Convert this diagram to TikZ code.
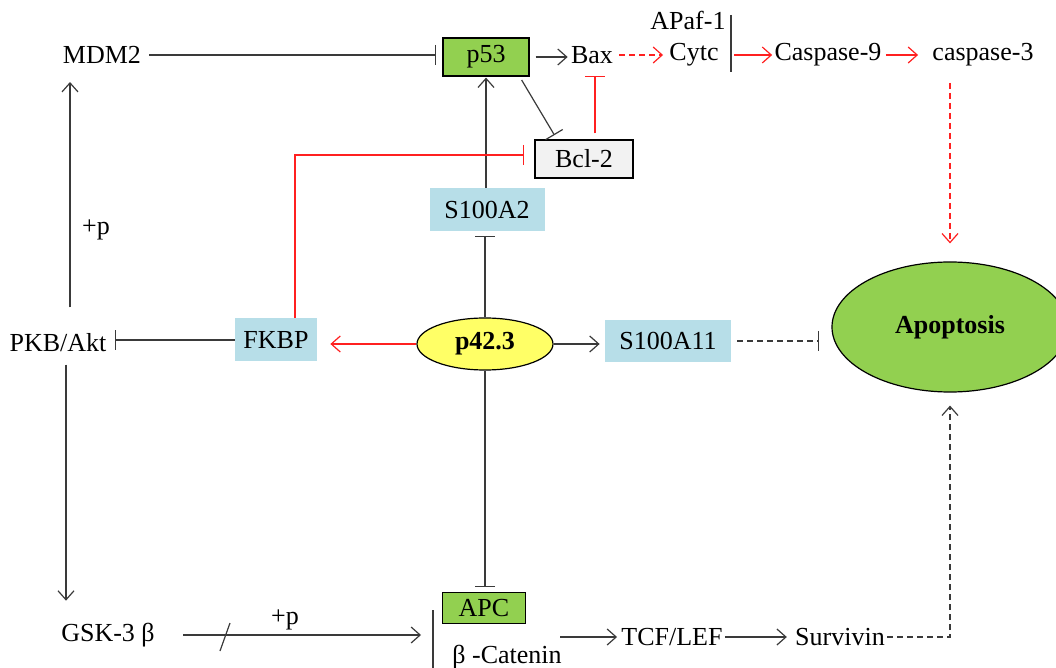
\documentclass[tikz,border=0pt]{standalone}
\usepackage{fontspec}
\setmainfont{Liberation Serif}
\usepackage{xcolor}
\usepackage {tikz}
\usetikzlibrary{positioning, arrows.meta, shapes.geometric}

\definecolor{leafgreen}{HTML}{92D050}
\definecolor{paleblue}{HTML}{B7DEE8}
\definecolor{palegray}{HTML}{F2F2F2}
\definecolor{lemon}{HTML}{FFFF66}
\definecolor{inkgray}{HTML}{3A3A3A}
\definecolor{signalred}{HTML}{FF2020}

\tikzset{
        every node/.style={font=\fontsize{13}{15}\selectfont, inner sep=0pt},
        greenbox/.style={draw=black, line width=.6pt, fill=leafgreen, minimum width=43pt, minimum height=19pt},
        graybox/.style={draw=black, line width=.6pt, fill=palegray, minimum width=49pt, minimum height=19pt},
        bluebox/.style={fill=paleblue, minimum width=41pt, minimum height=21.5pt},
        hub/.style={ellipse, draw=black, line width=.6pt, fill=lemon, minimum width=68pt, minimum height=26pt, font=\fontsize{13}{15}\selectfont\bfseries},
        fate/.style={ellipse, draw=black, line width=.6pt, fill=leafgreen, minimum width=118pt, minimum height=65pt, font=\fontsize{13}{15}\selectfont\bfseries},
        link/.style={draw=inkgray, line width=.6pt},
        act/.style={link, -{Straight Barb[length=4.5pt, width=8pt]}, shorten <=3pt, shorten >=3pt},
        inh/.style={link, -{Bar[width=10pt]}, shorten <=3pt, shorten >=3pt},
        actred/.style={act, draw=signalred},
        inhred/.style={inh, draw=signalred},
        dashline/.style={dash pattern=on 3pt off 2pt}
}

\begin{document}
\begin{tikzpicture}[x=0.5pt, y=-0.5pt]
        \clip (0,0) rectangle (1056,668);

        % upper row: p53 and the caspase cascade
        \node (mdm2) at (102,55) {MDM2};
        \node[greenbox] (p53) at (486,57) {p53};
        \node (bax) at (592,55) {Bax};
        \node (apaf) at (688,20) {APaf-1};
        \node (cytc) at (694,55) {Cytc};
        \coordinate (mitotop) at (731,15);
        \coordinate (mitobot) at (731,72);
        \node (casp9) at (828,55) {Caspase-9};
        \node (casp3) at (983,55) {caspase-3};
        \node[graybox] (bcl2) at (584,159) {Bcl-2};
        \node[bluebox, minimum width=57.5pt] (s100a2) at (487,210) {S100A2};

        % middle row
        \node (pkb) at (58,343) {PKB/Akt};
        \node[bluebox] (fkbp) at (276,340) {FKBP};
        \node[hub] (p423) at (485,344) {p42.3};
        \node[bluebox, minimum width=63pt, minimum height=21pt] (s100a11) at (668,341) {S100A11};
        \node[fate] (apop) at (950,327) {Apoptosis};
        \node (plusa) at (96,230) {+p};

        % lower row: Wnt branch
        \node (gsk) at (108,635) {GSK-3 β};
        \node (plusb) at (285,620) {+p};
        \node[greenbox, minimum width=41.5pt, minimum height=15.5pt] (apc) at (484,608) {APC};
        \node (bcat) at (507,657) {β -Catenin};
        \coordinate (cattop) at (433,610);
        \coordinate (catbot) at (433,668);
        \coordinate (cut) at (225,637);
        \node (tcf) at (672,637) {TCF/LEF};
        \node (surv) at (840,637) {Survivin};

        % connectors of the upper part
        \draw[inh, shorten <=4pt] (mdm2.east) -- (mdm2.east -| p53.west);
        \draw[act, shorten >=1.5pt] (p53.east) -- (p53.east -| bax.west);
        \draw[actred, dashline] (bax.east) -- (cytc.west);
        \draw[link] (mitotop) -- (mitobot);
        \draw[actred, shorten <=1.5pt, shorten >=1pt] (mitotop |- cytc) -- (casp9.west);
        \draw[actred, shorten <=2pt, shorten >=7pt] (casp9.east) -- (casp3.west);
        \draw[actred, dashline, shorten <=8pt, shorten >=9pt] (casp3.south -| apop.north) -- (apop.north);
        \draw[inh, shorten <=2pt, shorten >=2.5pt] ([xshift=-5pt]p53.south east) -- ([xshift=-13.5pt]bcl2.north);
        \draw[inhred, shorten <=3pt, shorten >=6pt] ([xshift=5.5pt]bcl2.north) -- ([xshift=5.5pt]bcl2.north |- bax.south);
        \draw[act, shorten <=0pt, shorten >=0.5pt] (s100a2.north -| p53.south) -- (p53.south);
        \draw[inhred, shorten <=0pt, shorten >=5pt] ([xshift=9.5pt]fkbp.north) |- ([yshift=2pt]bcl2.west);

        % connectors of p42.3
        \draw[inh, shorten <=0pt, shorten >=2pt] (p423.north) -- (p423.north |- s100a2.south);
        \draw[actred, shorten <=0pt, shorten >=6.5pt] (p423.west) -- (p423.west -| fkbp.east);
        \draw[act, shorten <=0pt, shorten >=2.5pt] (p423.east) -- (p423.east -| s100a11.west);
        \draw[inh, dashline, shorten >=6pt] (s100a11.east) -- (s100a11.east -| apop.west);
        \draw[inh, shorten <=0pt, shorten >=2.5pt] (p423.south) -- (p423.south |- apc.north);
        \draw[inh, shorten <=0pt, shorten >=4pt] (fkbp.west) -- (fkbp.west -| pkb.east);

        % PKB/Akt branch
        \draw[act, shorten <=13pt, shorten >=9pt] ([xshift=6pt]pkb.north) -- ([xshift=6pt]pkb.north |- mdm2.south);
        \draw[act, shorten <=6pt, shorten >=11pt] ([xshift=4pt]pkb.south) -- ([xshift=4pt]pkb.south |- gsk.north);
        \draw[act, shorten <=14pt, shorten >=6pt] (gsk.east) -- (gsk.east -| cattop);
        \draw[link] ([shift={(-5,14)}]cut) -- ([shift={(5,-14)}]cut);
        \draw[link] (cattop) -- (catbot);
        \draw[act, shorten <=-1pt, shorten >=2pt] (tcf.west -| bcat.east) -- (tcf.west);
        \draw[act, shorten <=1pt, shorten >=4pt] (tcf.east) -- (surv.west);
        \draw[act, dashline, shorten <=1pt, shorten >=6.5pt] (surv.east) -| (apop.south);
\end{tikzpicture}
\end{document}
